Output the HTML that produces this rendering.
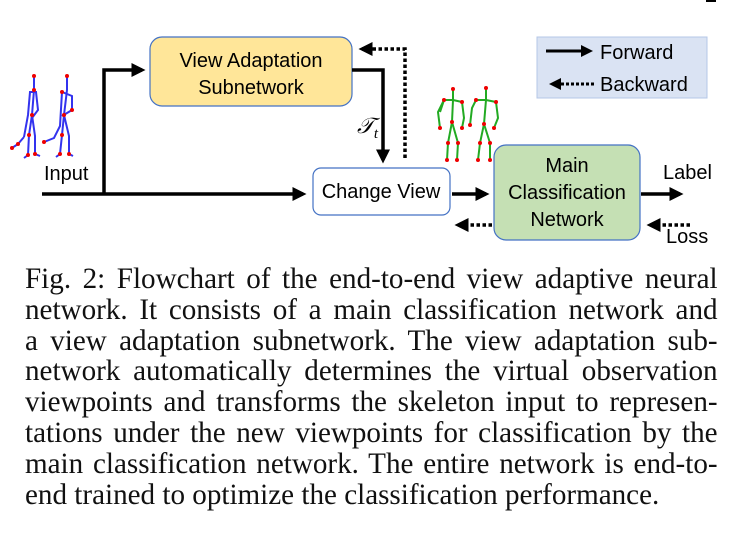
<!DOCTYPE html>
<html><head><meta charset="utf-8"><style>
body{margin:0;width:743px;height:539px;background:#fff;position:relative;overflow:hidden;font-family:"Liberation Sans",sans-serif}
.cap{position:absolute;left:25px;width:714px;font-family:"Liberation Serif",serif;font-size:30px;color:#111;transform:scaleX(0.97);transform-origin:0 0}
.cap div{height:30.8px;line-height:30.8px;text-align:justify;text-align-last:justify;white-space:nowrap}
.cap div.last{text-align-last:left}
</style></head><body>
<svg width="743" height="260" style="position:absolute;left:0;top:0" font-family="Liberation Sans, sans-serif">
<defs>
<marker id="a" markerWidth="4" markerHeight="4" refX="3" refY="2" orient="auto" markerUnits="strokeWidth"><path d="M0,0L4,2L0,4z" fill="#000"/></marker>
</defs>
<rect x="706" y="0" width="10" height="2" fill="#000"/>
<rect x="537" y="37" width="170" height="61" fill="#dae3f3" stroke="#b4c7e7" stroke-width="1"/>
<line x1="546" y1="51" x2="590" y2="51" stroke="#000" stroke-width="3" marker-end="url(#a)"/>
<text x="600" y="59" font-size="20">Forward</text>
<line x1="594" y1="84" x2="552" y2="84" stroke="#000" stroke-width="3" stroke-dasharray="3,2" marker-end="url(#a)"/>
<text x="600" y="91" font-size="20">Backward</text>
<rect x="150" y="37" width="202" height="69" rx="12" fill="#ffe699" stroke="#4472c4" stroke-width="1.2"/>
<text x="251" y="67" font-size="20" text-anchor="middle">View Adaptation</text>
<text x="251" y="94" font-size="20" text-anchor="middle">Subnetwork</text>
<rect x="313" y="168" width="137" height="47" rx="8" fill="#fff" stroke="#4472c4" stroke-width="1.2"/>
<text x="381" y="198" font-size="20" text-anchor="middle">Change View</text>
<rect x="494" y="145" width="146" height="95" rx="12" fill="#c5e0b4" stroke="#4472c4" stroke-width="1.2"/>
<text x="567" y="172" font-size="20" text-anchor="middle">Main</text>
<text x="567" y="199" font-size="20" text-anchor="middle">Classification</text>
<text x="567" y="226" font-size="20" text-anchor="middle">Network</text>
<line x1="42" y1="194" x2="303" y2="194" stroke="#000" stroke-width="3.5" marker-end="url(#a)"/>
<polyline points="104,194 104,70 142,70" fill="none" stroke="#000" stroke-width="3.5" marker-end="url(#a)"/>
<polyline points="352,70 383,70 383,160" fill="none" stroke="#000" stroke-width="3.5" marker-end="url(#a)"/>
<polyline points="405,158 405,49 362,49" fill="none" stroke="#000" stroke-width="3.5" stroke-dasharray="3.5,2.5" marker-end="url(#a)"/>
<text x="357" y="133" font-size="22" font-style="italic" font-family="Liberation Serif, serif">𝒯<tspan font-size="15" dy="5">t</tspan></text>
<line x1="452" y1="194" x2="486" y2="194" stroke="#000" stroke-width="3.5" marker-end="url(#a)"/>
<line x1="641" y1="194" x2="680" y2="194" stroke="#000" stroke-width="3.5" marker-end="url(#a)"/>
<line x1="492" y1="225" x2="458" y2="225" stroke="#000" stroke-width="3.5" stroke-dasharray="3.5,2.5" marker-end="url(#a)"/>
<line x1="690" y1="225" x2="650" y2="225" stroke="#000" stroke-width="3.5" stroke-dasharray="3.5,2.5" marker-end="url(#a)"/>
<text x="44" y="180" font-size="20">Input</text>
<text x="663" y="179" font-size="20">Label</text>
<text x="666" y="243" font-size="20">Loss</text>
<g stroke="#3333ee" stroke-width="2" fill="none">
<polyline points="34,76 34,90 32,115 29,135 28,155 24,158"/><polyline points="32,115 35,136 35,154 40,156"/>
<polyline points="24,137 28,115 30,92 36,92 38,110 32,118"/><polyline points="12,148 18,144 24,137"/>
<polyline points="67,76 67,90 64,115 62,135 60,154 56,157"/><polyline points="64,115 69,136 69,154 73,156"/>
<polyline points="44,142 54,138 60,126 62,92 72,96 72,110 62,116"/>
</g>
<g fill="#e00"><circle cx="34" cy="76" r="2"/><circle cx="34" cy="90" r="2"/><circle cx="32" cy="115" r="2"/><circle cx="29" cy="135" r="2"/><circle cx="28" cy="155" r="2"/><circle cx="35" cy="154" r="2"/><circle cx="18" cy="144" r="2"/><circle cx="12" cy="148" r="2"/><circle cx="67" cy="76" r="2"/><circle cx="62" cy="92" r="2"/><circle cx="64" cy="115" r="2"/><circle cx="62" cy="135" r="2"/><circle cx="60" cy="154" r="2"/><circle cx="69" cy="154" r="2"/><circle cx="44" cy="142" r="2"/><circle cx="72" cy="110" r="2"/></g>
<g stroke="#22aa22" stroke-width="2" fill="none">
<polyline points="453,89 453,100 452,122 448,143 447,160"/><polyline points="452,122 458,143 457,160"/>
<polyline points="440,112 444,100 453,100 462,102 464,118 462,128"/><polyline points="444,100 438,112 440,128"/>
<polyline points="486,88 486,100 484,124 480,143 478,160"/><polyline points="484,124 490,143 490,160"/>
<polyline points="470,125 472,108 476,100 486,100 496,102 498,118 494,128"/>
</g>
<g fill="#e00"><circle cx="453" cy="89" r="2"/><circle cx="444" cy="100" r="2"/><circle cx="462" cy="102" r="2"/><circle cx="452" cy="122" r="2"/><circle cx="448" cy="143" r="2"/><circle cx="458" cy="143" r="2"/><circle cx="447" cy="160" r="2"/><circle cx="457" cy="160" r="2"/><circle cx="440" cy="128" r="2"/><circle cx="462" cy="128" r="2"/><circle cx="486" cy="88" r="2"/><circle cx="476" cy="100" r="2"/><circle cx="496" cy="102" r="2"/><circle cx="484" cy="124" r="2"/><circle cx="480" cy="143" r="2"/><circle cx="490" cy="143" r="2"/><circle cx="478" cy="160" r="2"/><circle cx="490" cy="160" r="2"/><circle cx="470" cy="125" r="2"/><circle cx="494" cy="128" r="2"/></g>
</svg>
<div class="cap" style="top:264px">
<div>Fig. 2: Flowchart of the end-to-end view adaptive neural</div>
<div>network. It consists of a main classification network and</div>
<div>a view adaptation subnetwork. The view adaptation sub-</div>
<div>network automatically determines the virtual observation</div>
<div>viewpoints and transforms the skeleton input to represen-</div>
<div>tations under the new viewpoints for classification by the</div>
<div>main classification network. The entire network is end-to-</div>
<div class="last">end trained to optimize the classification performance.</div>
</div>
</body></html>
